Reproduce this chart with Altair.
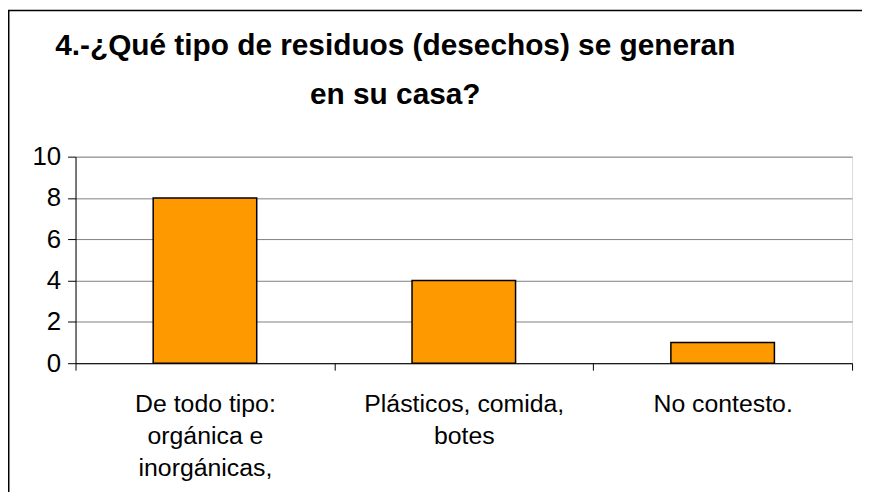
import altair as alt
import pandas as pd

categories = ["De todo tipo:\norgánica e\ninorgánicas,", "Plásticos, comida,\nbotes", "No contesto."]
values = [8, 4, 1]
y_ticks = [0, 2, 4, 6, 8, 10]
title_lines = ["4.-¿Qué tipo de residuos (desechos) se generan", "en su casa?"]

df = pd.DataFrame({"cat": categories, "val": values})
FONT = "Liberation Sans"

bars = alt.Chart(df).mark_bar(
    color="#FF9900", stroke="#000000", strokeWidth=1.5,
    width=alt.RelativeBandSize(0.4),
).encode(
    x=alt.X("cat:N", sort=categories, title=None,
            scale=alt.Scale(paddingInner=0, paddingOuter=0),
            axis=alt.Axis(labelAngle=0, labelExpr="split(datum.label, '\\n')",
                          labelFontSize=25, labelLineHeight=32, labelColor="#000000",
                          labelFont=FONT, tickBand="extent", tickSize=7,
                          tickColor="#000000", domainColor="#000000", labelPadding=22,
                          labelBaseline="top", labelLimit=400, grid=False)),
    y=alt.Y("val:Q", title=None, scale=alt.Scale(domain=[0, 10], nice=False),
            axis=alt.Axis(values=y_ticks, grid=True, gridColor="#808080",
                          tickSize=8, tickColor="#000000", domainColor="#000000",
                          labelFontSize=26, labelFont=FONT, labelColor="#000000",
                          labelPadding=7)),
)

frame_df = pd.DataFrame({"k": [0]})
left_border = alt.Chart(frame_df).mark_rule(color="#000000", strokeWidth=1.5).encode(
    x=alt.value(-67.25), y=alt.value(-147.25), y2=alt.value(340))
top_border = alt.Chart(frame_df).mark_rule(color="#000000", strokeWidth=1.5).encode(
    x=alt.value(-68), x2=alt.value(800), y=alt.value(-147.25))

chart = alt.layer(bars, left_border, top_border).properties(
    width=782, height=208,
    autosize=alt.AutoSizeParams(type="none"),
    padding={"left": 68, "top": 148, "right": 10, "bottom": 128},
    title=alt.TitleParams(title_lines, fontSize=30, font=FONT, fontWeight="bold",
                          anchor="middle", frame="group", dx=-69, lineHeight=49,
                          offset=-101, color="#000000"),
).configure_view(stroke="#808080", strokeWidth=1.5).configure(background="white")

chart.save("out.html", embed_options={"renderer": "svg", "actions": False})
